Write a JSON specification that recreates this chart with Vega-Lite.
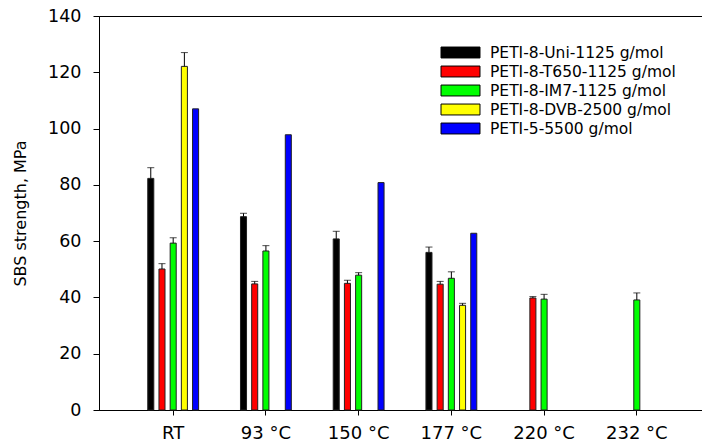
{
  "$schema": "https://vega.github.io/schema/vega-lite/v6.json",
  "autosize": "none",
  "width": 612,
  "height": 394,
  "padding": {"left": 99, "top": 16, "right": 0, "bottom": 35},
  "background": "white",
  "config": {
    "font": "DejaVu Sans",
    "view": {"stroke": "black", "strokeWidth": 1},
    "axis": {"grid": false, "domainColor": "black", "tickColor": "black", "labelColor": "black", "titleColor": "black"}
  },
  "data": {
    "values": [
      {"cond": "RT", "material": "PETI-8-Uni-1125 g/mol", "value": 82.3, "upper": 86.1},
      {"cond": "RT", "material": "PETI-8-T650-1125 g/mol", "value": 50.1, "upper": 52.0},
      {"cond": "RT", "material": "PETI-8-IM7-1125 g/mol", "value": 59.3, "upper": 61.2},
      {"cond": "RT", "material": "PETI-8-DVB-2500 g/mol", "value": 122.1, "upper": 127.0},
      {"cond": "RT", "material": "PETI-5-5500 g/mol", "value": 107.0, "upper": null},
      {"cond": "93 °C", "material": "PETI-8-Uni-1125 g/mol", "value": 68.7, "upper": 69.9},
      {"cond": "93 °C", "material": "PETI-8-T650-1125 g/mol", "value": 44.8, "upper": 45.7},
      {"cond": "93 °C", "material": "PETI-8-IM7-1125 g/mol", "value": 56.5, "upper": 58.4},
      {"cond": "93 °C", "material": "PETI-5-5500 g/mol", "value": 97.8, "upper": null},
      {"cond": "150 °C", "material": "PETI-8-Uni-1125 g/mol", "value": 60.8, "upper": 63.5},
      {"cond": "150 °C", "material": "PETI-8-T650-1125 g/mol", "value": 45.0, "upper": 46.1},
      {"cond": "150 °C", "material": "PETI-8-IM7-1125 g/mol", "value": 47.9, "upper": 48.8},
      {"cond": "150 °C", "material": "PETI-5-5500 g/mol", "value": 80.8, "upper": null},
      {"cond": "177 °C", "material": "PETI-8-Uni-1125 g/mol", "value": 56.0, "upper": 57.9},
      {"cond": "177 °C", "material": "PETI-8-T650-1125 g/mol", "value": 44.7, "upper": 45.7},
      {"cond": "177 °C", "material": "PETI-8-IM7-1125 g/mol", "value": 46.8, "upper": 49.1},
      {"cond": "177 °C", "material": "PETI-8-DVB-2500 g/mol", "value": 37.2, "upper": 37.9},
      {"cond": "177 °C", "material": "PETI-5-5500 g/mol", "value": 62.8, "upper": null},
      {"cond": "220 °C", "material": "PETI-8-T650-1125 g/mol", "value": 39.8, "upper": 40.3},
      {"cond": "220 °C", "material": "PETI-8-IM7-1125 g/mol", "value": 39.4, "upper": 41.1},
      {"cond": "232 °C", "material": "PETI-8-IM7-1125 g/mol", "value": 39.1, "upper": 41.6}
    ]
  },
  "encoding": {
    "x": {
      "field": "cond", "type": "nominal",
      "sort": ["RT", "93 °C", "150 °C", "177 °C", "220 °C", "232 °C"],
      "scale": {"paddingInner": 0.21, "paddingOuter": 0.405},
      "axis": {"title": null, "labelAngle": 0, "labelFontSize": 18, "labelPadding": 9, "tickSize": 5, "labelFont": "DejaVu Sans"}
    },
    "xOffset": {
      "field": "material", "type": "nominal",
      "sort": ["PETI-8-Uni-1125 g/mol", "PETI-8-T650-1125 g/mol", "PETI-8-IM7-1125 g/mol", "PETI-8-DVB-2500 g/mol", "PETI-5-5500 g/mol"],
      "scale": {"paddingInner": 0.46, "paddingOuter": 1}
    }
  },
  "layer": [
    {
      "mark": {"type": "bar", "stroke": "#222222", "strokeWidth": 1},
      "encoding": {
        "y": {
          "field": "value", "type": "quantitative",
          "scale": {"domain": [0, 140], "nice": false},
          "axis": {"title": "SBS strength, MPa", "titleFontSize": 16, "titleFontWeight": "normal", "titlePadding": 19, "labelFontSize": 17.5, "labelPadding": 12, "tickSize": 6, "values": [0, 20, 40, 60, 80, 100, 120, 140]}
        },
        "color": {
          "field": "material", "type": "nominal",
          "sort": ["PETI-8-Uni-1125 g/mol", "PETI-8-T650-1125 g/mol", "PETI-8-IM7-1125 g/mol", "PETI-8-DVB-2500 g/mol", "PETI-5-5500 g/mol"],
          "scale": {"domain": ["PETI-8-Uni-1125 g/mol", "PETI-8-T650-1125 g/mol", "PETI-8-IM7-1125 g/mol", "PETI-8-DVB-2500 g/mol", "PETI-5-5500 g/mol"], "range": ["#000000", "#ff0000", "#00ff00", "#ffff00", "#0000ff"]},
          "legend": {
            "title": null, "orient": "none", "legendX": 351, "legendY": 26, "padding": 0,
            "symbolType": "M-2,-0.56H2V0.56H-2Z", "symbolSize": 380, "symbolStrokeColor": "black", "symbolStrokeWidth": 1, "symbolOpacity": 1,
            "labelFontSize": 15.5, "labelOffset": 19, "labelColor": "black", "labelLimit": 400, "rowPadding": 0
          }
        }
      }
    },
    {
      "transform": [{"filter": "isValid(datum.upper)"}],
      "mark": {"type": "rule", "color": "black", "strokeWidth": 1},
      "encoding": {
        "y": {"field": "value", "type": "quantitative"},
        "y2": {"field": "upper"}
      }
    },
    {
      "transform": [{"filter": "isValid(datum.upper)"}],
      "mark": {"type": "tick", "color": "black", "thickness": 1, "size": 7, "orient": "horizontal"},
      "encoding": {
        "y": {"field": "upper", "type": "quantitative"}
      }
    }
  ]
}
